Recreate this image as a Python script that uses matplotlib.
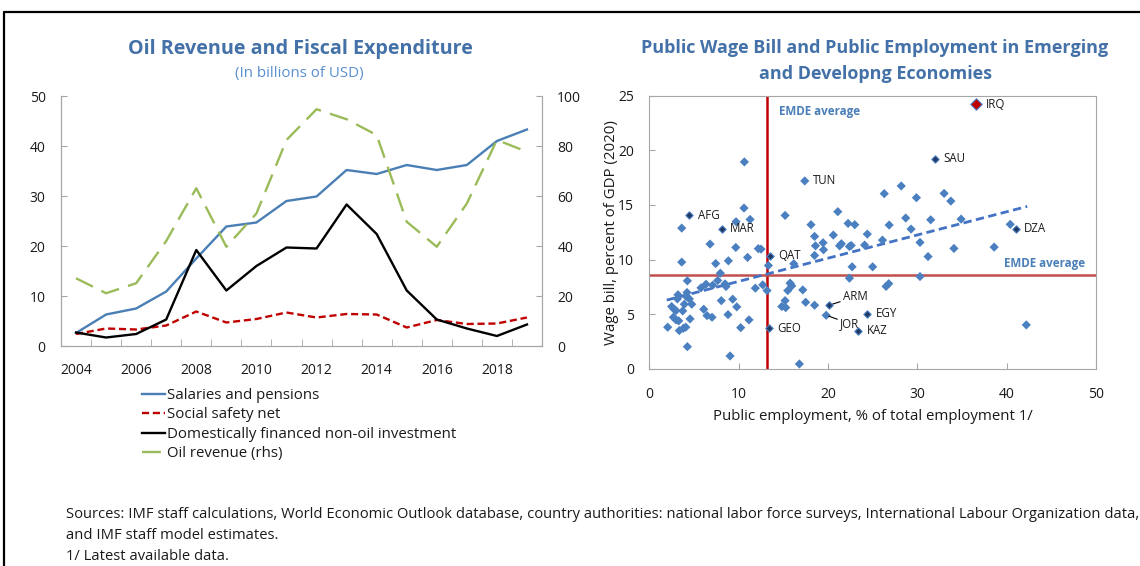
import matplotlib
matplotlib.use("Agg")
import matplotlib.pyplot as plt
from matplotlib.lines import Line2D

plt.rcParams['font.family'] = ['Open Sans', 'DejaVu Sans']

# ---- left panel data (billions of USD) ----
years = list(range(2004, 2020))
salaries = [2.6, 6.3, 7.5, 10.9, 17.5, 23.9, 24.7, 29.0, 29.9, 35.2, 34.4, 36.2, 35.2, 36.2, 41.0, 43.3]
safety_net = [2.4, 3.5, 3.3, 4.1, 6.9, 4.7, 5.4, 6.7, 5.7, 6.4, 6.3, 3.7, 5.2, 4.4, 4.5, 5.7]
investment = [2.7, 1.7, 2.4, 5.3, 19.2, 11.1, 16.0, 19.7, 19.5, 28.3, 22.4, 11.1, 5.3, 3.5, 2.0, 4.3]
oil_revenue = [27.1, 21.1, 25.1, 42.0, 63.1, 39.7, 53.0, 82.4, 94.7, 90.7, 84.4, 49.7, 39.7, 57.0, 82.4, 77.7]

# ---- right panel data ----
emp = [3.63, 10.64, 10.6, 9.71, 11.28, 6.8, 9.68, 12.2, 12.5, 3.63, 7.43, 8.85, 11.0, 13.33, 16.17,
       7.95, 4.26, 7.66, 6.35, 5.79, 7.1, 8.48, 8.59,
       3.21, 3.14, 4.22, 4.14, 4.48, 4.75, 3.92, 2.5, 2.77, 2.99, 3.74, 2.69, 2.99, 3.29, 4.56,
       2.06, 3.36, 3.81, 4.08, 4.26, 6.09, 6.46, 7.02, 8.06, 9.34, 9.79, 8.81, 10.23, 11.16, 9.04,
       11.87, 12.7, 13.18,
       15.76, 15.95, 15.5, 17.18, 15.2, 14.83, 15.27, 17.5, 18.5, 16.8, 22.4, 26.5, 26.8, 30.3, 42.2,
       17.4, 15.2, 21.1, 18.1, 22.25, 23.0, 26.3, 26.85, 18.5, 20.6, 24.4, 18.6, 19.45, 19.5, 21.3,
       21.5, 22.4, 22.6, 24.1, 18.5, 22.7, 25.0, 26.1, 28.2, 29.9, 33.0, 33.75, 28.7, 29.3, 31.5,
       34.9, 30.3, 31.2, 34.1, 38.6, 40.4, 19.8]
wage = [12.88, 18.93, 14.71, 13.46, 13.67, 11.42, 11.11, 11.0, 10.96, 9.77, 9.64, 9.89, 10.2, 9.46, 9.62,
        8.76, 8.06, 8.09, 7.75, 7.42, 7.66, 7.78, 7.54,
        6.78, 6.41, 6.99, 6.62, 6.41, 5.92, 5.92, 5.71, 5.46, 5.34, 5.31, 4.73, 4.49, 4.4, 4.58,
        3.82, 3.51, 3.72, 3.82, 2.04, 5.46, 4.88, 4.73, 6.25, 6.38, 5.68, 4.97, 3.78, 4.49, 1.19,
        7.39, 7.69, 7.17,
        7.85, 7.6, 7.17, 7.23, 6.25, 5.71, 5.61, 6.1, 5.83, 0.46, 8.3, 7.55, 7.8, 8.45, 4.03,
        17.19, 14.04, 14.38, 13.19, 13.31, 13.19, 16.03, 13.16, 12.12, 12.24, 12.33, 11.26, 11.54, 10.9, 11.26,
        11.45, 11.2, 11.29, 11.33, 10.38, 9.34, 9.34, 11.78, 16.73, 15.66, 16.05, 15.35, 13.8, 12.79, 13.64,
        13.7, 11.57, 10.28, 11.02, 11.14, 13.22, 4.91]

hl_names = ['SAU', 'AFG', 'MAR', 'QAT', 'DZA', 'ARM', 'EGY', 'KAZ', 'GEO']
hl_emp = [32.0, 4.48, 8.1, 13.55, 41.0, 20.12, 24.4, 23.4, 13.44]
hl_wage = [19.2, 14.07, 12.82, 10.35, 12.82, 5.83, 5.06, 3.51, 3.72]
irq = (36.6, 24.18)
plain_labels = {'TUN': (17.4, 17.19), 'JOR': (19.8, 4.91)}

emde_emp_avg = 13.18
emde_wage_avg = 8.6
trend_x = [1.95, 42.3]
trend_y = [6.3, 14.86]

W, H = 1140, 566
fig = plt.figure(figsize=(W / 100, H / 100), dpi=100)

def fx(px):
    return px / W

def fy(py):
    return 1 - py / H

title_col = '#4472a8'
grey = '#a6a6a6'
txt = '#1a1a1a'

# frame lines
fig.add_artist(Line2D([fx(4), fx(4), 1.0], [0.0, fy(12), fy(12)], color='black', lw=1.6))

# ---------------- left panel ----------------
ax = fig.add_axes([fx(61), fy(346), fx(542) - fx(61), fy(96) - fy(346)])
x = list(range(len(years)))
l1, = ax.plot(x, salaries, color='#4a7fb5', lw=1.7, label='Salaries and pensions')
l2, = ax.plot(x, safety_net, color='#c00000', lw=1.7, dashes=(3, 1.6), label='Social safety net')
l3, = ax.plot(x, investment, color='black', lw=1.7, label='Domestically financed non-oil investment')
ax2 = ax.twinx()
l4, = ax2.plot(x, oil_revenue, color='#9bbb59', lw=1.7, dashes=(8, 4), label='Oil revenue (rhs)')

ax.set_xlim(-0.5, len(years) - 0.5)
ax.set_ylim(0, 50)
ax2.set_ylim(0, 100)
ax.set_yticks(range(0, 51, 10))
ax2.set_yticks(range(0, 101, 20))
ax.set_xticks(x[::2])
ax.set_xticklabels([str(y) for y in years[::2]])
ax.set_xticks([i + 0.5 for i in x[:-1]], minor=True)
ax.tick_params(axis='x', which='major', length=0, pad=12, labelsize=10, labelcolor=txt)
ax.tick_params(axis='x', which='minor', direction='in', length=5, color=grey)
ax.tick_params(axis='y', direction='in', length=4, color=grey, pad=11, labelsize=10, labelcolor=txt)
ax2.tick_params(axis='y', direction='in', length=4, color=grey, pad=11, labelsize=10, labelcolor=txt)
for a in (ax, ax2):
    a.spines['top'].set_visible(False)
    for s in ('left', 'right', 'bottom'):
        a.spines[s].set_color(grey)

fig.text(fx(300), fy(49), 'Oil Revenue and Fiscal Expenditure', ha='center', va='center',
         fontsize=14.2, fontweight='bold', color=title_col)
fig.text(fx(299), fy(73), '(In billions of USD)', ha='center', va='center',
         fontsize=10.9, color='#5b8fd0')

fig.legend(handles=[l1, l2, l3, l4], loc='upper left', bbox_to_anchor=(fx(142), fy(388)),
           frameon=False, fontsize=10.8, handlelength=1.5, handletextpad=0.15,
           labelspacing=0.3, borderpad=0, borderaxespad=0, labelcolor=txt)

# ---------------- right panel ----------------
bx = fig.add_axes([fx(649.3), fy(369), fx(1096) - fx(649.3), fy(95.5) - fy(369)])
bx.scatter(emp, wage, marker='D', s=22, color='#4a7fc0', edgecolors='none', zorder=3)
bx.scatter(hl_emp, hl_wage, marker='D', s=14, color='#1f3864', edgecolors='#4a7fc0',
           linewidths=0.8, zorder=4)
bx.scatter([irq[0]], [irq[1]], marker='D', s=34, color='#c00000', edgecolors='#4a7fc0',
           linewidths=0.8, zorder=4)
bx.plot(trend_x, trend_y, color='#4472c4', lw=2, dashes=(3, 1.6), zorder=2)
bx.axvline(emde_emp_avg, color='#c00000', lw=1.8, zorder=1)
bx.axhline(emde_wage_avg, color='#c0504d', lw=1.8, zorder=1)

lab_kw = dict(fontsize=8.3, color=txt, va='center', ha='left')
for name, ex, wy in zip(hl_names, hl_emp, hl_wage):
    if name in ('ARM',):
        continue
    bx.annotate(name, (ex, wy), xytext=(6, 0), textcoords='offset points', **lab_kw)
bx.annotate('IRQ', irq, xytext=(7, 0), textcoords='offset points', **lab_kw)
bx.annotate('TUN', plain_labels['TUN'], xytext=(6, 0), textcoords='offset points', **lab_kw)
bx.annotate('ARM', (hl_emp[5], hl_wage[5]), xytext=(10, 6), textcoords='offset points',
            arrowprops=dict(arrowstyle='-', color='black', lw=0.8, shrinkA=0, shrinkB=2), **lab_kw)
bx.annotate('JOR', plain_labels['JOR'], xytext=(10, -6), textcoords='offset points',
            arrowprops=dict(arrowstyle='-', color='black', lw=0.8, shrinkA=0, shrinkB=2), **lab_kw)

bx.text(emde_emp_avg + 1.3, 23.5, 'EMDE average', fontsize=8.4, fontweight='bold',
        color='#4a7fb8', va='center', ha='left')
bx.text(48.8, emde_wage_avg + 1.0, 'EMDE average', fontsize=8.4, fontweight='bold',
        color='#4a7fb8', va='center', ha='right')

bx.set_xlim(0, 50)
bx.set_ylim(0, 25)
bx.set_xticks(range(0, 51, 10))
bx.set_yticks(range(0, 26, 5))
bx.tick_params(axis='both', direction='in', length=4, color=grey, labelsize=10, labelcolor=txt)
bx.tick_params(axis='x', pad=13)
bx.tick_params(axis='y', pad=11)
for s in bx.spines.values():
    s.set_color(grey)
bx.set_xlabel('Public employment, % of total employment 1/', fontsize=10.8, color=txt, labelpad=5)
bx.set_ylabel('Wage bill, percent of GDP (2020)', fontsize=10.8, color=txt, labelpad=-1)

fig.text(fx(875), fy(48), 'Public Wage Bill and Public Employment in Emerging', ha='center',
         va='center', fontsize=13, fontweight='bold', color=title_col)
fig.text(fx(875), fy(74), 'and Developng Economies', ha='center', va='center',
         fontsize=13, fontweight='bold', color=title_col)

# ---------------- footer ----------------
foot = ['Sources: IMF staff calculations, World Economic Outlook database, country authorities: '
        'national labor force surveys, International Labour Organization data,',
        'and IMF staff model estimates.',
        '1/ Latest available data.']
for i, line in enumerate(foot):
    fig.text(fx(66), fy(514 + 21.5 * i), line, ha='left', va='center', fontsize=10.6, color=txt)

fig.savefig('out.png', dpi=100)
